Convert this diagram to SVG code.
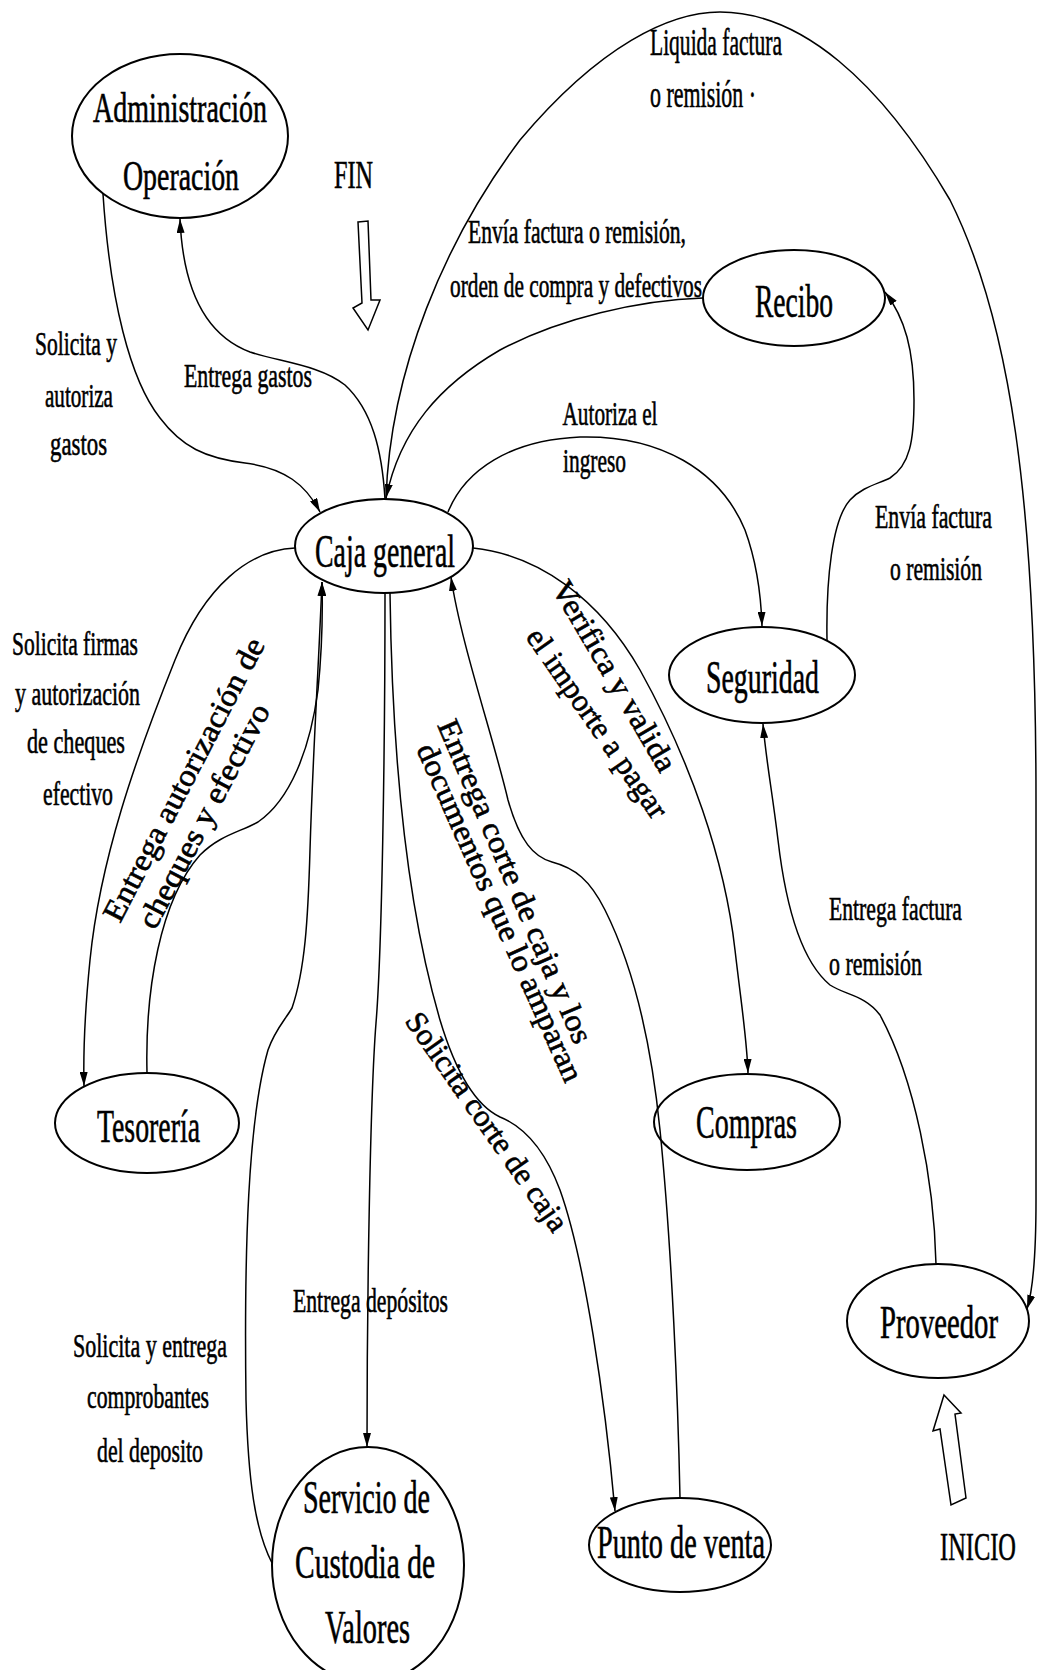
<svg xmlns="http://www.w3.org/2000/svg" width="1039" height="1670" viewBox="0 0 1039 1670">
  <style>
    text { font-family: "Liberation Serif", "Times New Roman", serif; fill: #000; stroke: #000; stroke-width: 0.6; }
    .node ellipse { fill: none; stroke: #000; stroke-width: 2; }
    .nt { font-size: 46px; text-anchor: middle; }
    .lb { font-size: 34px; text-anchor: middle; }
    .rt { font-size: 31px; }
    .edges path { fill: none; stroke: #000; stroke-width: 1.5; marker-end: url(#ah); }
    .big { fill: #fff; stroke: #000; stroke-width: 1.5; }
  </style>
  <defs>
    <marker id="ah" viewBox="0 0 14 8" refX="14" refY="4" markerWidth="14" markerHeight="8" markerUnits="userSpaceOnUse" orient="auto">
      <path d="M0,0 L14,4 L0,8 z" fill="#000"/>
    </marker>
  </defs>
  <rect width="1039" height="1670" fill="#fff"/>

  <!-- connectors -->
  <g id="connectors" class="edges">
    <path id="e-admin-caja" d="M103,194 C110,300 130,380 160,418 C182,447 205,458 245,463 C285,468 306,485 320,512"/>
    <path id="e-caja-admin" d="M385,499 C382,450 372,410 345,385 C320,365 280,362 250,352 C205,335 183,290 180,219"/>
    <path id="e-recibo-caja" d="M703,298 C640,300 560,318 500,350 C440,385 400,430 386,498"/>
    <path id="e-caja-proveedor" d="M386,499 C390,370 445,240 520,140 C600,45 670,12 720,12 C800,12 880,80 950,200 C1010,320 1036,500 1036,800 L1036,1200 C1036,1260 1033,1290 1027,1309"/>
    <path id="e-caja-seguridad" d="M448,512 C465,470 510,440 580,437 C660,435 720,470 745,530 C756,560 761,595 762,626"/>
    <path id="e-seguridad-recibo" d="M827,640 C826,580 832,520 850,500 C862,487 878,484 890,478 C910,465 914,440 914,400 C914,350 905,318 885,292"/>
    <path id="e-caja-compras" d="M473,548 C540,555 600,600 640,670 C690,760 725,860 735,950 C742,1010 747,1040 748,1073"/>
    <path id="e-caja-tesoreria" d="M295,548 C250,550 205,585 175,660 C135,760 100,860 90,960 C85,1010 83,1045 84,1086"/>
    <path id="e-tesoreria-caja" d="M147,1073 C145,990 160,900 200,855 C220,835 240,832 258,822 C290,800 310,750 318,690 C322,650 323,620 322,582"/>
    <path id="e-custodia-caja" d="M272,1563 C255,1530 248,1480 246,1400 C244,1250 248,1120 268,1050 C275,1030 285,1020 292,1008 C305,970 308,920 310,850 C313,750 318,680 322,582"/>
    <path id="e-caja-custodia" d="M385,593 C385,750 382,950 376,1023 C370,1100 367,1300 367,1447"/>
    <path id="e-proveedor-seguridad" d="M936,1264 C934,1180 915,1080 880,1015 C865,995 845,995 830,985 C800,960 785,900 778,840 C772,790 766,760 763,724"/>
    <path id="e-punto-caja" d="M680,1498 C678,1400 672,1250 660,1130 C650,1030 630,960 605,910 C590,880 575,868 552,862 C534,857 520,842 508,800 C494,740 460,640 451,577"/>
    <path id="e-caja-punto" d="M390,593 C392,750 405,900 440,1020 C455,1070 475,1105 500,1117 C525,1127 545,1150 560,1190 C585,1260 605,1400 615,1511"/>
  </g>

  <!-- connector labels -->
  <g id="edge-labels">
    <text class="lb" x="76" y="355" textLength="82" lengthAdjust="spacingAndGlyphs">Solicita y</text>
    <text class="lb" x="79" y="407" textLength="68" lengthAdjust="spacingAndGlyphs">autoriza</text>
    <text class="lb" x="78.5" y="455" textLength="57" lengthAdjust="spacingAndGlyphs">gastos</text>
    <text class="lb" x="248" y="387" textLength="128" lengthAdjust="spacingAndGlyphs">Entrega gastos</text>
    <text class="lb" x="716" y="55" style="font-size:38px" textLength="132" lengthAdjust="spacingAndGlyphs">Liquida factura</text>
    <text class="lb" x="703" y="107" style="font-size:38px" textLength="106" lengthAdjust="spacingAndGlyphs">o remisión ·</text>
    <text class="lb" x="577" y="243" textLength="218" lengthAdjust="spacingAndGlyphs">Envía factura o remisión,</text>
    <text class="lb" x="576" y="297" textLength="252" lengthAdjust="spacingAndGlyphs">orden de compra y defectivos</text>
    <text class="lb" x="610" y="425" textLength="95" lengthAdjust="spacingAndGlyphs">Autoriza el</text>
    <text class="lb" x="594.5" y="472" textLength="63" lengthAdjust="spacingAndGlyphs">ingreso</text>
    <text class="lb" x="933.5" y="528" textLength="117" lengthAdjust="spacingAndGlyphs">Envía factura</text>
    <text class="lb" x="936" y="580" textLength="92" lengthAdjust="spacingAndGlyphs">o remisión</text>
    <text class="lb" x="75" y="655" textLength="126" lengthAdjust="spacingAndGlyphs">Solicita firmas</text>
    <text class="lb" x="77.5" y="705" textLength="125" lengthAdjust="spacingAndGlyphs">y autorización</text>
    <text class="lb" x="76" y="753" textLength="98" lengthAdjust="spacingAndGlyphs">de cheques</text>
    <text class="lb" x="78" y="805" textLength="70" lengthAdjust="spacingAndGlyphs">efectivo</text>
    <text class="lb" x="895.5" y="920" textLength="133" lengthAdjust="spacingAndGlyphs">Entrega factura</text>
    <text class="lb" x="875.5" y="975" textLength="93" lengthAdjust="spacingAndGlyphs">o remisión</text>
    <text class="lb" x="370.5" y="1312" textLength="155" lengthAdjust="spacingAndGlyphs">Entrega depósitos</text>
    <text class="lb" x="150" y="1357" textLength="154" lengthAdjust="spacingAndGlyphs">Solicita y entrega</text>
    <text class="lb" x="148" y="1408" textLength="122" lengthAdjust="spacingAndGlyphs">comprobantes</text>
    <text class="lb" x="150" y="1462" textLength="106" lengthAdjust="spacingAndGlyphs">del deposito</text>

    <!-- labels set along the curved connectors -->
    <text class="rt" transform="translate(551,588) rotate(59.6)" textLength="216" lengthAdjust="spacingAndGlyphs">Verifica y valida</text>
    <text class="rt" transform="translate(525,637) rotate(55.2)" textLength="224" lengthAdjust="spacingAndGlyphs">el importe a pagar</text>
    <text class="rt" transform="translate(120,924) rotate(-62.5)" textLength="315" lengthAdjust="spacingAndGlyphs">Entrega autorización de</text>
    <text class="rt" transform="translate(155,931) rotate(-62.3)" textLength="249" lengthAdjust="spacingAndGlyphs">cheques  y efectivo</text>
    <text class="rt" transform="translate(437,725) rotate(66.8)" textLength="349" lengthAdjust="spacingAndGlyphs">Entrega corte de caja y los</text>
    <text class="rt" transform="translate(416,749) rotate(66)" textLength="367" lengthAdjust="spacingAndGlyphs">documentos que lo amparan</text>
    <text class="rt" transform="translate(404,1021) rotate(55)" textLength="260" lengthAdjust="spacingAndGlyphs">Solicita corte de caja</text>
  </g>

  <!-- nodes -->
  <g id="node-administracion" class="node">
    <ellipse cx="180" cy="136" rx="108" ry="82"/>
    <text class="nt" x="180" y="122" style="font-size:42px" textLength="174" lengthAdjust="spacingAndGlyphs">Administración</text>
    <text class="nt" x="181" y="190" style="font-size:42px" textLength="116" lengthAdjust="spacingAndGlyphs">Operación</text>
  </g>
  <g id="node-recibo" class="node">
    <ellipse cx="794" cy="298" rx="91" ry="48"/>
    <text class="nt" x="794" y="317" textLength="78" lengthAdjust="spacingAndGlyphs">Recibo</text>
  </g>
  <g id="node-caja" class="node">
    <ellipse cx="384" cy="546" rx="89" ry="47"/>
    <text class="nt" x="385" y="567" textLength="140" lengthAdjust="spacingAndGlyphs">Caja general</text>
  </g>
  <g id="node-seguridad" class="node">
    <ellipse cx="762" cy="675" rx="93" ry="48"/>
    <text class="nt" x="762.5" y="693" textLength="113" lengthAdjust="spacingAndGlyphs">Seguridad</text>
  </g>
  <g id="node-tesoreria" class="node">
    <ellipse cx="147" cy="1123" rx="92" ry="50"/>
    <text class="nt" x="148.5" y="1142" textLength="103" lengthAdjust="spacingAndGlyphs">Tesorería</text>
  </g>
  <g id="node-compras" class="node">
    <ellipse cx="747" cy="1122" rx="93" ry="48"/>
    <text class="nt" x="746.5" y="1138" textLength="101" lengthAdjust="spacingAndGlyphs">Compras</text>
  </g>
  <g id="node-proveedor" class="node">
    <ellipse cx="938" cy="1321" rx="91" ry="57"/>
    <text class="nt" x="939" y="1338" textLength="118" lengthAdjust="spacingAndGlyphs">Proveedor</text>
  </g>
  <g id="node-custodia" class="node">
    <ellipse cx="368" cy="1565" rx="96" ry="118"/>
    <text class="nt" x="366.5" y="1513" textLength="127" lengthAdjust="spacingAndGlyphs">Servicio de</text>
    <text class="nt" x="365" y="1578" textLength="140" lengthAdjust="spacingAndGlyphs">Custodia  de</text>
    <text class="nt" x="367.5" y="1643" textLength="85" lengthAdjust="spacingAndGlyphs">Valores</text>
  </g>
  <g id="node-punto" class="node">
    <ellipse cx="680" cy="1545" rx="91" ry="47"/>
    <text class="nt" x="681" y="1558" textLength="168" lengthAdjust="spacingAndGlyphs">Punto de venta</text>
  </g>

  <!-- start and end markers -->
  <g id="fin">
    <text class="lb" x="353.5" y="188" style="font-size:40px" textLength="39" lengthAdjust="spacingAndGlyphs">FIN</text>
    <polygon class="big" points="358,222 368,221 371,300 380,300 368,330 353,308 362,303"/>
  </g>
  <g id="inicio">
    <polygon class="big" points="944,1395 961,1413 955,1414 966,1498 951,1505 940,1429 933,1431"/>
    <text class="lb" x="978" y="1560" style="font-size:40px" textLength="76" lengthAdjust="spacingAndGlyphs">INICIO</text>
  </g>
</svg>
